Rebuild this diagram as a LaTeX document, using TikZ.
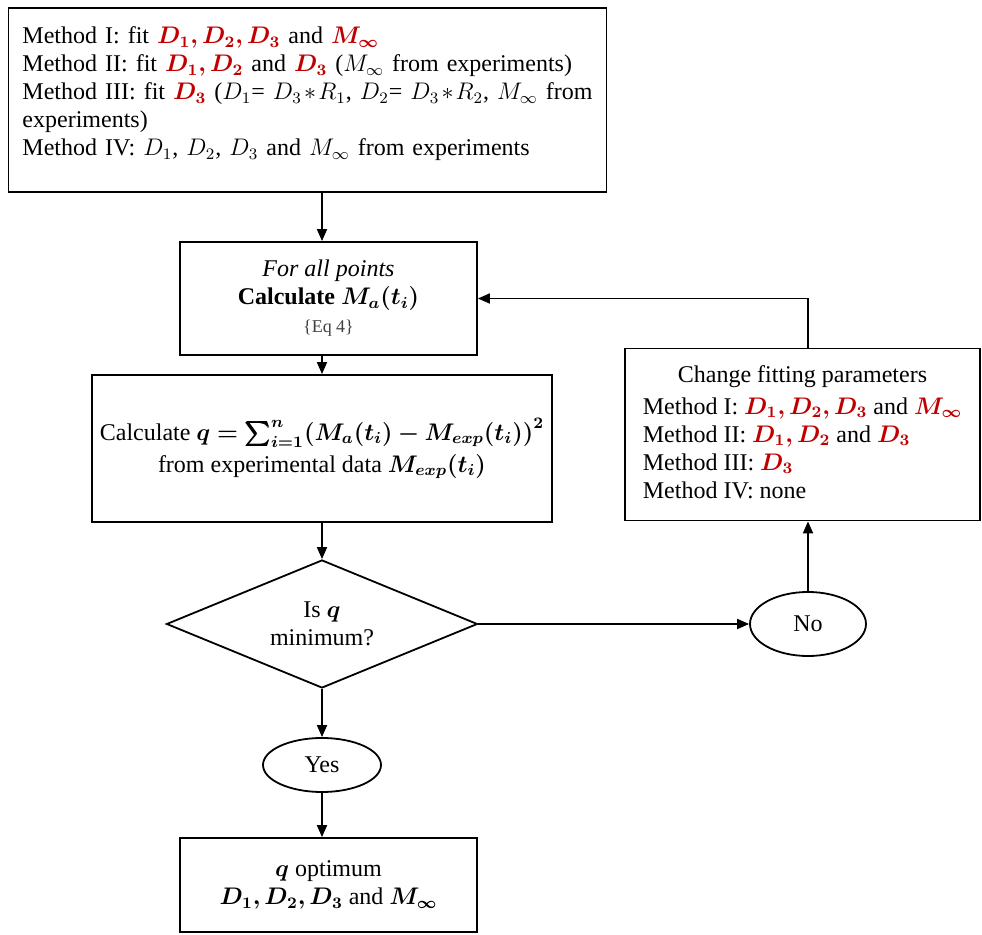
\documentclass[tikz,border=0pt]{standalone}
\usepackage{amsmath}
\usepackage{bm}
\usepackage{fontspec}
\setmainfont{Liberation Serif}
\usetikzlibrary{shapes.geometric,arrows.meta}
\definecolor{fitred}{RGB}{192,0,0}
\tikzstyle{block}=[draw,line width=0.9pt,align=center,inner sep=4pt,font=\fontsize{12}{14}\selectfont]
\tikzstyle{decision}=[diamond,draw,line width=0.9pt,align=center,inner sep=0pt,aspect=2.4,font=\fontsize{12}{14}\selectfont]
\tikzstyle{answer}=[ellipse,draw,line width=0.9pt,inner sep=0pt,font=\fontsize{12}{14}\selectfont]
\tikzstyle{flow}=[line width=0.9pt,-{Triangle[length=6pt,width=5pt]}]
\newcommand{\fit}[1]{\textcolor{fitred}{$\bm{#1}$}}

\begin{document}
\begin{tikzpicture}[x=0.5pt,y=-0.5pt]
    \useasboundingbox (0,0) rectangle (982,935);
    \node[block,align=left,text width=285pt,minimum height=92pt,inner sep=7pt] (methods) at (307.5,100) {
      Method I: fit \fit{D_1, D_2, D_3} and \fit{M_\infty}\\
      Method II: fit \fit{D_1, D_2} and \fit{D_3} ($M_\infty$ from experiments)\\
      Method III: fit \fit{D_3} ($D_1$= $D_3 * R_1$, $D_2$= $D_3 * R_2$, $M_\infty$ from\\
      experiments)\\
      Method IV: $D_1$, $D_2$, $D_3$ and $M_\infty$ from experiments\\[-5pt]\mbox{}};
    \node[block,minimum width=148.5pt,minimum height=56.5pt] (allpts) at (328.5,298.5) {
      \textit{For all points}\\
      \textbf{Calculate} $\bm{M_a(t_i)}$\\
      {\fontsize{9}{11}\selectfont\color{black!75}\{Eq 4\}}};
    \node[block,minimum width=214.5pt,minimum height=73.5pt] (calc) at (322,448.5) {
      Calculate $\bm{q=\textstyle\sum_{i=1}^{n}(M_a(t_i)-M_{exp}(t_i))^2}$\\[2pt]
      from experimental data $\bm{M_{exp}(t_i)}$};
    \node[decision,minimum width=155.5pt,minimum height=64pt] (ismin) at (322,624) {Is $\bm{q}$\\minimum?};
    \node[answer,minimum width=59pt,minimum height=27pt] (yes) at (322,765) {Yes};
    \node[answer,minimum width=58pt,minimum height=32pt] (no) at (808,624) {No};
    \node[block,minimum width=148.5pt,minimum height=47pt] (optimum) at (328.5,885) {
      $\bm{q}$ optimum\\
      $\bm{D_1, D_2, D_3}$ and $\bm{M_\infty}$};
    \node[block,minimum width=177.5pt,minimum height=84.5pt,inner sep=7pt] (change) at (802.5,434.5) {
      \begin{tabular}{@{}l@{}}
      \multicolumn{1}{@{}c@{}}{Change fitting parameters}\\[2pt]
      Method I: \fit{D_1, D_2, D_3} and \fit{M_\infty}\\
      Method II: \fit{D_1, D_2} and \fit{D_3}\\
      Method III: \fit{D_3}\\
      Method IV: none
      \end{tabular}};
    % main line
    \draw[flow] (calc.north |- methods.south) -- (calc.north |- allpts.north);
    \draw[flow] (calc.north |- allpts.south) -- (calc.north);
    \draw[flow] (calc.south) -- (ismin.north);
    \draw[flow] (ismin.south) -- (yes.north);
    \draw[flow] (yes.south) -- (optimum.north -| yes.south);
    % loop back
    \draw[flow] (ismin.east) -- (no.west);
    \draw[flow] (no.north) -- (no.north |- change.south);
    \draw[flow] (no.north |- change.north) |- (allpts.east);
\end{tikzpicture}
\end{document}
